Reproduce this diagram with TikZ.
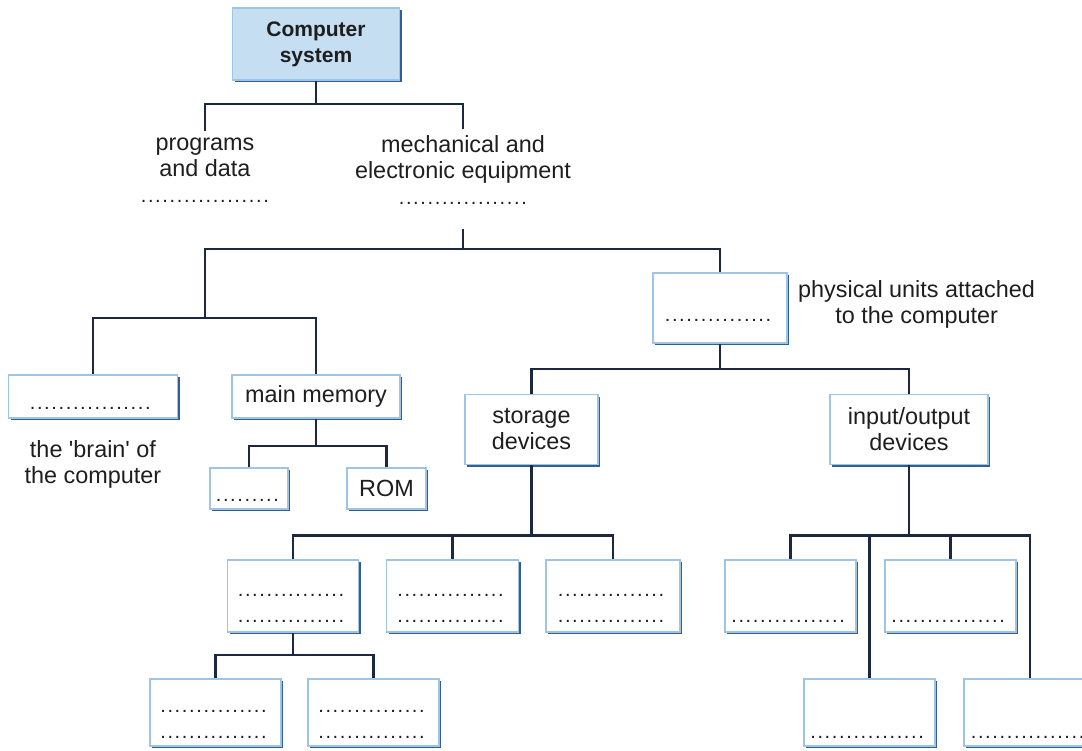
\documentclass[tikz,border=0pt]{standalone}
\usepackage{fontspec}
\setmainfont{Liberation Sans}
\usepackage{tikz}
\usetikzlibrary{positioning}
\usetikzlibrary{shadows}

\definecolor{linkcol}{RGB}{28,40,66}
\definecolor{boxedge}{RGB}{160,196,228}
\definecolor{boxshade}{RGB}{50,95,145}
\definecolor{topfill}{RGB}{198,222,242}
\definecolor{inkcol}{RGB}{30,30,30}

\newcommand\dotrow[1]{\makebox[#1]{\fontsize{10}{13}\selectfont\leaders\hbox to 3.6pt{\hss.\hss}\hfill}}

\begin{document}
\begin{tikzpicture}[x=0.5pt, y=-0.5pt, text=inkcol,
    txt/.style = {align=center, inner sep=3pt, font=\fontsize{11.7}{13}\selectfont},
    main/.style = {draw=boxedge, line width=0.8pt, fill=white, align=center, inner sep=2pt,
        font=\fontsize{11.7}{13}\selectfont,
        drop shadow={shadow xshift=1.1pt, shadow yshift=-1.1pt, fill=boxshade, opacity=1}},
    link/.style = {draw=linkcol, line width=1.2pt}]
            \useasboundingbox (0,0) rectangle (1082,750);
            % Nodes
            \node[main, fill=topfill, minimum width=83.5pt, minimum height=36pt,
                font=\fontsize{10.5}{13}\selectfont\bfseries] (cs) at (316,44) {Computer\\system};
            \node[txt] (prog) at (205,170) {programs\\and data\\\dotrow{65pt}};
            \node[txt] (mech) at (463,170) {mechanical and\\electronic equipment\\\dotrow{65pt}};
            \coordinate (proc) at (205,318);
            \node[main, minimum width=84.5pt, minimum height=21.5pt] (cpu) at (93,396.5) {\mbox{}\\\dotrow{64pt}};
            \node[txt] (brain) [below=7.5pt of cpu] {the \textquotesingle brain\textquotesingle\ of\\the computer};
            \node[main, minimum width=84pt, minimum height=21.5pt] (mm) at (316,396.5) {main memory};
            \node[main, minimum width=39pt, minimum height=20.5pt] (ram) at (249,488.5) {\mbox{}\\\dotrow{34pt}};
            \node[main, minimum width=39.5pt, minimum height=20.5pt] (rom) at (386.5,488.5) {ROM};
            \node[main, minimum width=67pt, minimum height=35pt] (periph) at (720,308) {\mbox{}\\\dotrow{56pt}};
            \node[txt, right=2pt of periph, yshift=2pt] (phys) {physical units attached\\to the computer};
            \node[main, minimum width=66.5pt, minimum height=35pt] (stor) at (531.5,429.5) {storage\\devices};
            \node[main, minimum width=79pt, minimum height=35pt] (io) at (909,429.5) {input/output\\devices};
            \node[main, minimum width=65.5pt, minimum height=36pt] (s1) at (293,596) {\mbox{}\\\dotrow{56pt}\\\dotrow{56pt}};
            \node[main, minimum width=66pt, minimum height=36pt] (s2) at (452.5,596) {\mbox{}\\\dotrow{56pt}\\\dotrow{56pt}};
            \node[main, minimum width=67pt, minimum height=36pt] (s3) at (613,596) {\mbox{}\\\dotrow{56pt}\\\dotrow{56pt}};
            \node[main, minimum width=65.5pt, minimum height=33.5pt] (s11) at (215.5,712.5) {\mbox{}\\\dotrow{56pt}\\\dotrow{56pt}};
            \node[main, minimum width=65.5pt, minimum height=33.5pt] (s12) at (373.5,712.5) {\mbox{}\\\dotrow{56pt}\\\dotrow{56pt}};
            \node[main, minimum width=65.5pt, minimum height=36pt] (io1) at (790.5,596) {\mbox{}\\\mbox{}\\\dotrow{60pt}};
            \node[main, minimum width=65.5pt, minimum height=36pt] (io2) at (950.5,596) {\mbox{}\\\mbox{}\\\dotrow{60pt}};
            \node[main, minimum width=65.5pt, minimum height=33.5pt] (io3) at (869.5,712.5) {\mbox{}\\\mbox{}\\\dotrow{60pt}};
            \node[main, minimum width=66pt, minimum height=33.5pt] (io4) at (1030,712.5) {\mbox{}\\\mbox{}\\\dotrow{60pt}};
            % Edges
            \draw[link] (cs.south) -- ++(0,23) -| (prog.north);
            \draw[link] (cs.south) -- ++(0,23) -| (mech.north);
            \draw[link] (mech.south) ++(0,18) -- ++(0,20) -| (proc);
            \draw[link] (mech.south) ++(0,18) -- ++(0,20) -| (periph.north);
            \draw[link] (proc) -| (cpu.north);
            \draw[link] (proc) -| (mm.north);
            \draw[link] (mm.south) -- ++(0,27) -| (ram.north);
            \draw[link] (mm.south) -- ++(0,27) -| (rom.north);
            \draw[link] (periph.south) -- ++(0,25) -| (stor.north);
            \draw[link] (periph.south) -- ++(0,25) -| (io.north);
            \draw[link] (stor.south) -- ++(0,70) -| (s1.north);
            \draw[link] (stor.south) -- ++(0,70) -| (s2.north);
            \draw[link] (stor.south) -- ++(0,70) -| (s3.north);
            \draw[link] (s1.south) -- ++(0,22) -| (s11.north);
            \draw[link] (s1.south) -- ++(0,22) -| (s12.north);
            \draw[link] (io.south) -- ++(0,70) -| (io1.north);
            \draw[link] (io.south) -- ++(0,70) -| (io2.north);
            \draw[link] (io.south) -- ++(0,70) -| (io3.north);
            \draw[link] (io.south) -- ++(0,70) -| (io4.north);
\end{tikzpicture}
\end{document}
